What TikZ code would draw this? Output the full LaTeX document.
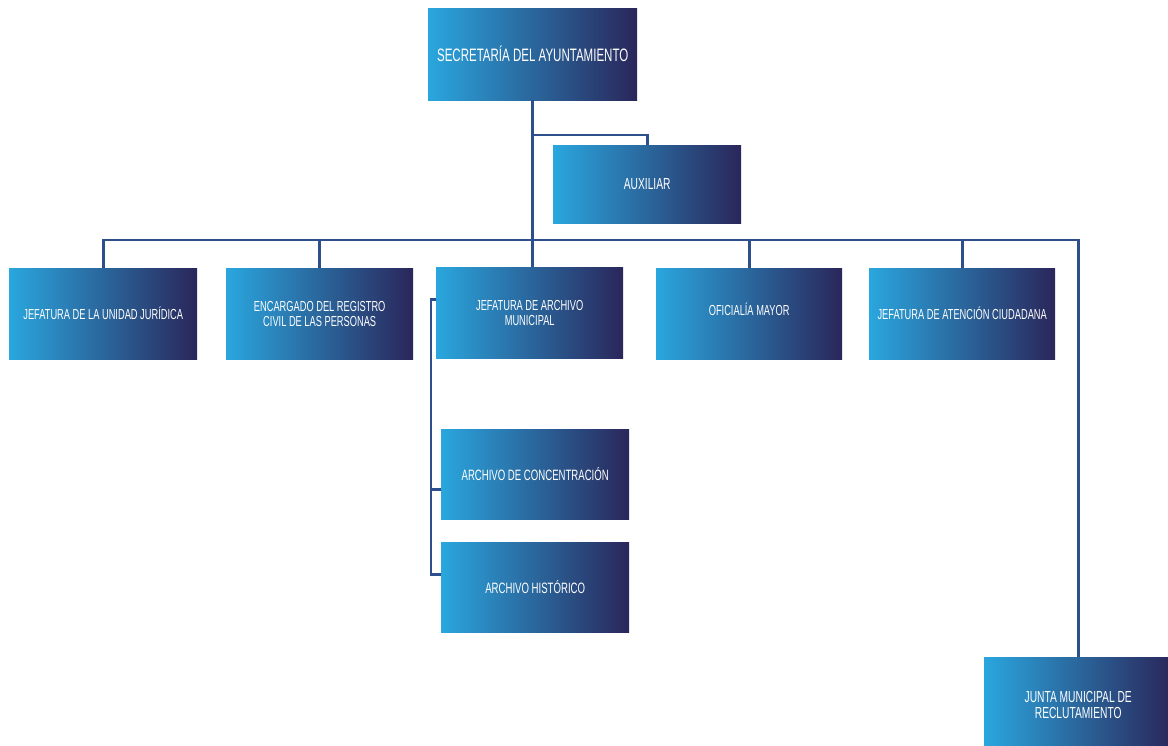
\documentclass[tikz,border=0pt]{standalone}
\usepackage{fontspec}
\setmainfont{Liberation Sans}[FakeStretch=0.64]
\definecolor{boxL}{RGB}{42,166,222}
\definecolor{boxR}{RGB}{42,38,90}
\definecolor{linec}{RGB}{45,80,140}
\begin{document}
\begin{tikzpicture}[x=1pt,y=-1pt,
  orgbox/.style={rectangle, anchor=north west, inner sep=0pt, left color=boxL, right color=boxR,
    text=white, align=center, minimum width=188pt, minimum height=91pt,
    font=\fontsize{14.5}{15}\selectfont},
  conn/.style={draw=linec, line width=2.8pt}]
\useasboundingbox (0,0) rectangle (1168,746);
\clip (0,0) rectangle (1168,746);
\fill[white] (0,0) rectangle (1168,746);
% boxes
\node[orgbox, minimum width=209pt, minimum height=92pt, font=\fontsize{18}{20}\selectfont] (sec) at (428,8) {SECRETARÍA DEL AYUNTAMIENTO};
\node[orgbox, minimum height=78pt, font=\fontsize{16}{16}\selectfont] (aux) at (553,145) {\raisebox{-6pt}{AUXILIAR}};
\node[orgbox] (b1) at (9,268) {JEFATURA DE LA UNIDAD JURÍDICA};
\node[orgbox, minimum width=187pt] (b2) at (226,268) {ENCARGADO DEL REGISTRO\\CIVIL DE LAS PERSONAS};
\node[orgbox, minimum width=187pt] (b3) at (436,267) {JEFATURA DE ARCHIVO\\MUNICIPAL};
\node[orgbox, minimum width=186pt] (b4) at (656,268) {\raisebox{8pt}{OFICIALÍA MAYOR}};
\node[orgbox, minimum width=186pt] (b5) at (869,268) {JEFATURA DE ATENCIÓN CIUDADANA};
\node[orgbox, minimum height=90pt, font=\fontsize{15}{16}\selectfont] (c1) at (441,429) {ARCHIVO DE CONCENTRACIÓN};
\node[orgbox, minimum height=90pt, font=\fontsize{15}{16}\selectfont] (c2) at (441,542) {ARCHIVO HISTÓRICO};
\node[orgbox, minimum height=96pt, font=\fontsize{16}{16}\selectfont] (junta) at (984,657) {JUNTA MUNICIPAL DE\\RECLUTAMIENTO};
% connectors
\coordinate (bus) at (533,240);
\coordinate (auxbus) at (533,135);
\draw[conn] (sec.south) -- (sec.south |- b3.north);
\draw[conn] (sec.south |- auxbus) -| (aux.north);
\draw[conn] (b1.north) |- (bus) -| (junta.north);
\draw[conn] (b2.north) -- (b2.north |- bus);
\draw[conn] (b4.north) -- (b4.north |- bus);
\draw[conn] (b5.north) -- (b5.north |- bus);
\draw[conn] ([yshift=13pt]b3.west) -- ++(-5,0) |- ([yshift=13pt]c2.west);
\draw[conn] ([yshift=-15pt]c1.west) -- ++(-10,0);
\end{tikzpicture}
\end{document}
